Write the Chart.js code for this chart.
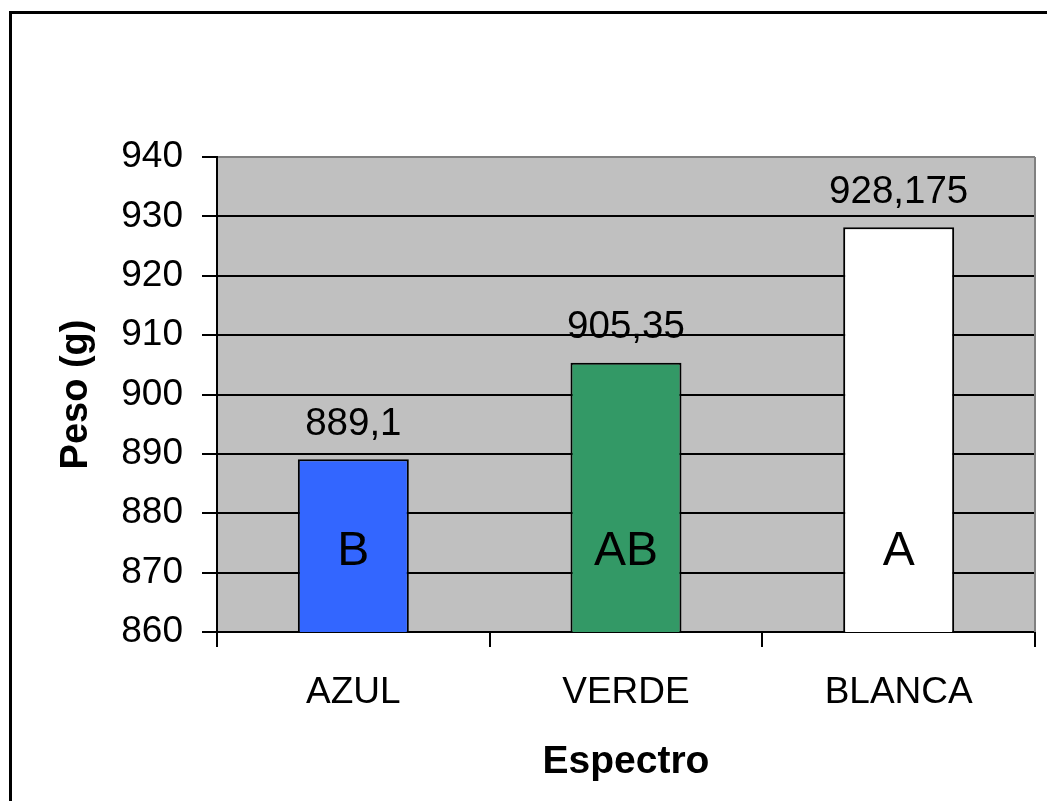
<!DOCTYPE html>
<html>
<head>
<meta charset="utf-8">
<script src="https://cdn.jsdelivr.net/npm/chart.js@4/dist/chart.umd.min.js"></script>
<style>
  html, body { margin: 0; padding: 0; background: #fff; }
  canvas { display: block; }
</style>
</head>
<body>
<canvas id="peso-chart" width="1047" height="801"></canvas>
<script>
// Peso medio por espectro de luz
const espectros = ['AZUL', 'VERDE', 'BLANCA'];
const pesos = [889.1, 905.35, 928.175];
const letras = ['B', 'AB', 'A'];
const colores = ['#3366FF', '#339966', '#FFFFFF'];

const FONT = '"Liberation Sans", Arial, sans-serif';

// Outer frame, grey plot area and its right edge
const marco = {
  id: 'marco',
  beforeDraw(chart) {
    const { ctx, chartArea: a } = chart;
    ctx.save();
    ctx.fillStyle = '#fff';
    ctx.fillRect(0, 0, chart.width, chart.height);
    ctx.lineWidth = 3;
    ctx.strokeStyle = '#000';
    ctx.strokeRect(10.5, 12.5, 1100, 900);
    ctx.fillStyle = '#C0C0C0';
    ctx.fillRect(a.left, a.top, a.right - a.left, a.bottom - a.top);
    ctx.restore();
  },
  beforeDatasetsDraw(chart) {
    const { ctx, chartArea: a } = chart;
    ctx.save();
    ctx.strokeStyle = '#808080';
    ctx.lineWidth = 2;
    ctx.beginPath();
    ctx.moveTo(a.right, a.top);
    ctx.lineTo(a.right, a.bottom);
    ctx.stroke();
    ctx.restore();
  }
};

// Value above each bar and significance letter inside it
const etiquetas = {
  id: 'etiquetas',
  afterDatasetsDraw(chart) {
    const { ctx } = chart;
    const meta = chart.getDatasetMeta(0);
    const y = chart.scales.y;
    ctx.save();
    ctx.fillStyle = '#000';
    ctx.textAlign = 'center';
    ctx.textBaseline = 'middle';
    meta.data.forEach((bar, i) => {
      ctx.font = '38.5px ' + FONT;
      ctx.fillText(String(pesos[i]).replace('.', ','), bar.x, bar.y - 35);
      ctx.font = '48px ' + FONT;
      ctx.fillText(letras[i], bar.x, y.getPixelForValue(873.5));
    });
    ctx.restore();
  }
};

new Chart(document.getElementById('peso-chart'), {
  type: 'bar',
  data: {
    labels: espectros,
    datasets: [{
      data: pesos,
      backgroundColor: colores,
      borderColor: '#000',
      borderWidth: 2,
      borderSkipped: false,
      categoryPercentage: 1,
      barPercentage: 0.407
    }]
  },
  options: {
    responsive: false,
    animation: false,
    layout: { padding: { top: 157, right: 12, left: 0, bottom: 0 } },
    plugins: {
      legend: { display: false },
      tooltip: { enabled: false }
    },
    scales: {
      x: {
        afterFit: scale => { scale.height = 169; },
        grid: {
          drawOnChartArea: false,
          drawTicks: true,
          tickLength: 15,
          tickColor: '#000',
          lineWidth: 2
        },
        border: { display: true, color: '#000', width: 2 },
        ticks: {
          color: '#000',
          padding: 24,
          font: { family: FONT, size: 37 }
        },
        title: {
          display: true,
          text: 'Espectro',
          color: '#000',
          padding: { top: 0, bottom: 15 },
          font: { family: FONT, size: 39, weight: 'bold' }
        }
      },
      y: {
        min: 860,
        max: 940,
        afterFit: scale => { scale.width = 217; },
        grid: {
          color: ctx => ctx.tick && ctx.tick.value === 940 ? '#808080' : '#000',
          tickColor: '#000',
          lineWidth: 2,
          tickLength: 15
        },
        border: { display: true, color: '#000', width: 2 },
        ticks: {
          stepSize: 10,
          color: '#000',
          padding: 19,
          font: { family: FONT, size: 37 }
        },
        title: {
          display: true,
          text: 'Peso (g)',
          color: '#000',
          padding: { top: 54, bottom: 0 },
          font: { family: FONT, size: 38, weight: 'bold' }
        }
      }
    }
  },
  plugins: [marco, etiquetas]
});
</script>
</body>
</html>
